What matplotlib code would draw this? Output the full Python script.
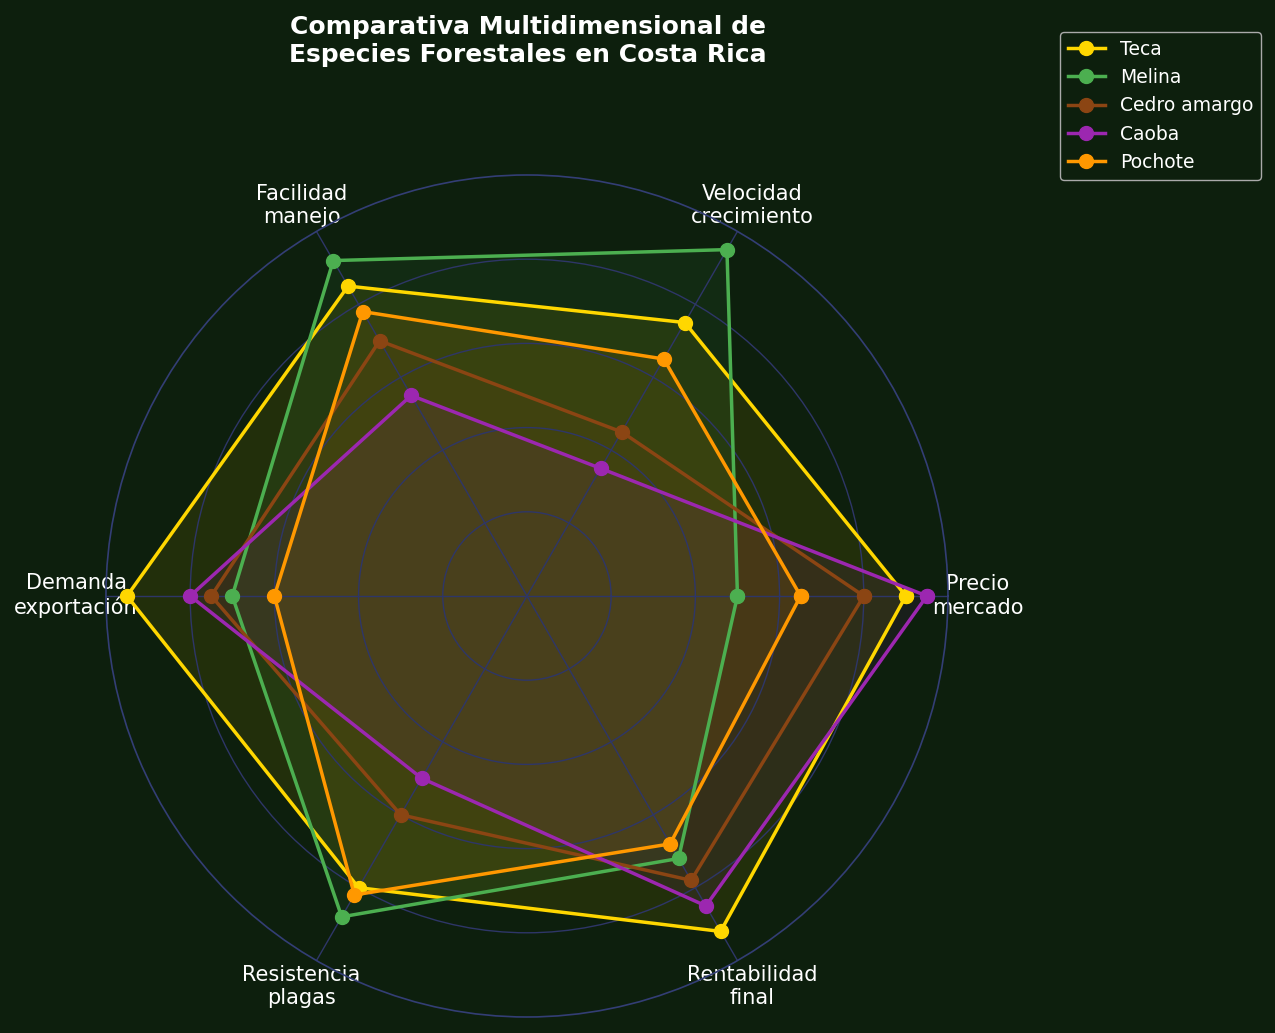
import numpy as np
import matplotlib
matplotlib.use("Agg")
import matplotlib.pyplot as plt

# data
categorias = ["Precio\nmercado", "Velocidad\ncrecimiento", "Facilidad\nmanejo",
              "Demanda\nexportación", "Resistencia\nplagas", "Rentabilidad\nfinal"]
especies = ["Teca", "Melina", "Cedro amargo", "Caoba", "Pochote"]
teca = [9.0, 7.5, 8.5, 9.5, 8.0, 9.2]
melina = [5.0, 9.5, 9.2, 7.0, 8.8, 7.2]
cedro = [8.0, 4.5, 7.0, 7.5, 6.0, 7.8]
caoba = [9.5, 3.5, 5.5, 8.0, 5.0, 8.5]
pochote = [6.5, 6.5, 7.8, 6.0, 8.2, 6.8]
colores = ["#FFD700", "#4CAF50", "#8B4513", "#9C27B0", "#FF9800"]

bg = "#0d1f0d"
grid_col = "#2e3668"

fig = plt.figure(figsize=(12.75, 10.33), dpi=100, facecolor=bg)
ax = fig.add_axes([0.0831, 0.0155, 0.6604, 0.8151], polar=True)
ax.set_facecolor(bg)

n = len(categorias)
angulos = np.linspace(0, 2 * np.pi, n, endpoint=False).tolist()
angulos += angulos[:1]

for nombre, vals, c in zip(especies, [teca, melina, cedro, caoba, pochote], colores):
    v = vals + vals[:1]
    ax.plot(angulos, v, color=c, linewidth=2.5, marker="o", markersize=10, label=nombre)
    ax.fill(angulos, v, color=c, alpha=0.09)

ax.set_ylim(0, 10)
ax.set_yticks([2, 4, 6, 8])
ax.set_yticklabels([])
ax.set_xticks(angulos[:-1])
ax.set_xticklabels(categorias, color="white", fontsize=15)
ax.tick_params(axis="x", pad=11)
ax.grid(color=grid_col, linewidth=1.0)
ax.spines["polar"].set_color("#333e75")
ax.spines["polar"].set_linewidth(1.2)

fig.text(0.414, 0.960, "Comparativa Multidimensional de\nEspecies Forestales en Costa Rica",
         ha="center", va="center", color="white", fontsize=18, fontweight="bold",
         linespacing=1.2)

leg = fig.legend(loc="upper right", bbox_to_anchor=(0.989, 0.969), borderaxespad=0,
                 fontsize=13.5, facecolor=bg, edgecolor="#aaaaaa", framealpha=1,
                 labelspacing=0.5)
for t in leg.get_texts():
    t.set_color("white")

fig.savefig("out.png", dpi=100, facecolor=bg)
